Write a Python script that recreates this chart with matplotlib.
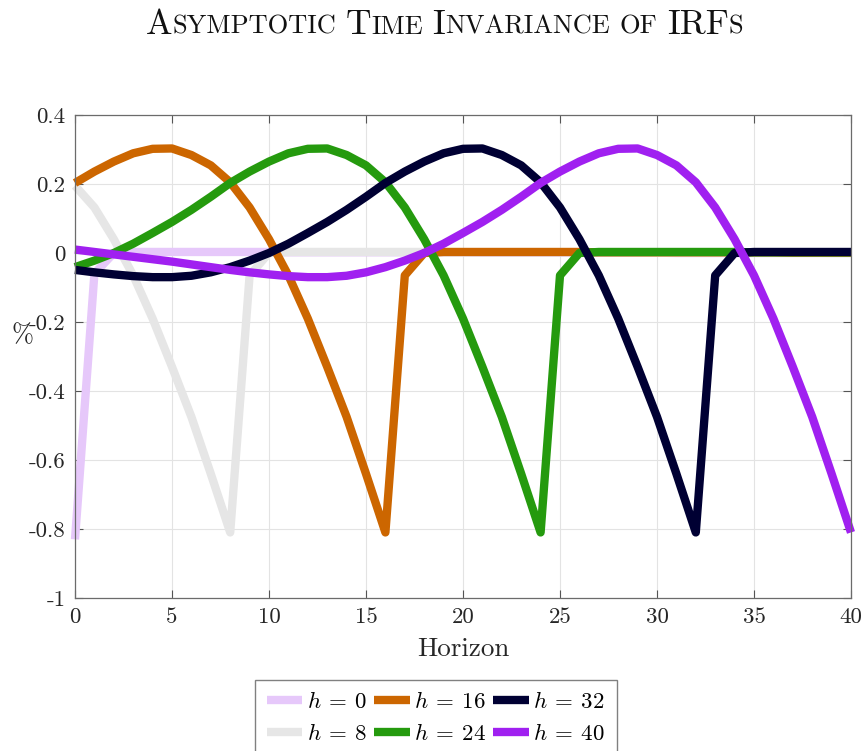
import matplotlib
matplotlib.use("Agg")
import matplotlib.pyplot as plt

plt.rcParams['font.family'] = 'cmr10'
plt.rcParams['mathtext.fontset'] = 'cm'
plt.rcParams['axes.unicode_minus'] = False

# horizon axis
horizon = list(range(41))

# IRFs for each h
irf_h0 = [-0.83, -0.06, 0.000] + [0.003] * 8 + [0.002] * 10 + [0.001] * 10 + [0.000] * 10
irf_h8 = [0.195, 0.132, 0.040, -0.065, -0.190, -0.330, -0.475, -0.640, -0.81,
          -0.065, 0.000] + [0.003] * 8 + [0.002] * 10 + [0.001] * 10 + [0.000] * 2
irf_h16 = [0.203, 0.236, 0.265, 0.289, 0.302, 0.303, 0.284, 0.254, 0.205, 0.132,
           0.040, -0.065, -0.190, -0.330, -0.475, -0.640, -0.81,
           -0.065, 0.000] + [0.003] * 8 + [0.002] * 10 + [0.001] * 4
irf_h24 = [-0.041, -0.022, 0.000, 0.027, 0.058, 0.090, 0.125, 0.163, 0.203, 0.236,
           0.265, 0.289, 0.302, 0.303, 0.284, 0.254, 0.205, 0.132, 0.040, -0.065,
           -0.190, -0.330, -0.475, -0.640, -0.81,
           -0.065, 0.000] + [0.003] * 8 + [0.002] * 6
irf_h32 = [-0.049, -0.056, -0.062, -0.067, -0.070, -0.070, -0.066, -0.056,
           -0.041, -0.022, 0.000, 0.027, 0.058, 0.090, 0.125, 0.163, 0.203, 0.236,
           0.265, 0.289, 0.302, 0.303, 0.284, 0.254, 0.205, 0.132, 0.040, -0.065,
           -0.190, -0.330, -0.475, -0.640, -0.81,
           -0.065, 0.000] + [0.003] * 6
irf_h40 = [0.010, 0.003, -0.004, -0.011, -0.018, -0.025, -0.033, -0.041,
           -0.049, -0.056, -0.062, -0.067, -0.070, -0.070, -0.066, -0.056,
           -0.041, -0.022, 0.000, 0.027, 0.058, 0.090, 0.125, 0.163, 0.203, 0.236,
           0.265, 0.289, 0.302, 0.303, 0.284, 0.254, 0.205, 0.132, 0.040, -0.065,
           -0.190, -0.330, -0.475, -0.640, -0.81]

series = [irf_h0, irf_h8, irf_h16, irf_h24, irf_h32, irf_h40]
labels = [r'$h\:=\:0$', r'$h\:=\:8$', r'$h\:=\:16$', r'$h\:=\:24$', r'$h\:=\:32$', r'$h\:=\:40$']
colors = ['#E6C8FA', '#E6E6E6', '#CC6600', '#259A0E', '#000033', '#A020F0']

yticks = [-1, -0.8, -0.6, -0.4, -0.2, 0, 0.2, 0.4]
yticklabels = ['-1', '-0.8', '-0.6', '-0.4', '-0.2', '0', '0.2', '0.4']
xticks = [0, 5, 10, 15, 20, 25, 30, 35, 40]

W, H = 865, 751
fig = plt.figure(figsize=(W / 100, H / 100), dpi=100)
ax = fig.add_axes([75 / W, 1 - 598 / H, 776 / W, 483 / H])

for y, lab, c in zip(series, labels, colors):
    ax.plot(horizon, y, color=c, lw=6.0, label=lab, clip_on=False,
            solid_joinstyle='round', solid_capstyle='butt')

ax.set_xlim(0, 40)
ax.set_ylim(-1, 0.4)
ax.set_xticks(xticks)
ax.set_xticklabels([str(t) for t in xticks])
ax.set_yticks(yticks)
ax.set_yticklabels(yticklabels)
ax.grid(True, color='#e3e3e3', lw=0.8)
ax.set_axisbelow(True)
ax.tick_params(direction='in', top=True, right=True, length=6, width=0.8,
               colors='#555555', labelcolor='#262626', labelsize=16.5, pad=7)
for sp in ax.spines.values():
    sp.set_color('#6b6b6b')
    sp.set_linewidth(0.9)

ax.set_xlabel('Horizon', fontsize=19.5, color='#262626', labelpad=7)
ax.set_ylabel('%', fontsize=19, color='#262626', rotation=0, va='center', ha='center')
ax.yaxis.set_label_coords(-0.068, 0.545)

fig.legend(loc='upper center', bbox_to_anchor=(436 / W, 1 - 680 / H), ncol=3,
           fontsize=16.5, handlelength=1.55, handletextpad=0.2, columnspacing=0.3,
           labelspacing=0.45, borderpad=0.5, borderaxespad=0, frameon=True,
           fancybox=False, edgecolor='#808080', framealpha=1)

# small-caps title built from pieces
pieces = [('A', 25.5), ('SYMPTOTIC', 19), (' ', 25.5), ('T', 25.5), ('IME', 19), (' ', 25.5),
          ('I', 25.5), ('NVARIANCE', 19), (' ', 25.5), ('OF', 19), (' ', 25.5),
          ('IRF', 25.5), ('S', 19)]
renderer = fig.canvas.get_renderer()
txts = []
widths = []
for s, size in pieces:
    if s == ' ':
        txts.append(None)
        widths.append(9.5)
        continue
    t = fig.text(0, 1 - 34 / H, s, fontsize=size, va='baseline', ha='left', color='#111111')
    txts.append(t)
    widths.append(t.get_window_extent(renderer).width)
total = sum(widths)
x0 = 444.5 - total / 2
for t, w in zip(txts, widths):
    if t is not None:
        t.set_x(x0 / W)
    x0 += w

fig.savefig('out.png', dpi=100)
